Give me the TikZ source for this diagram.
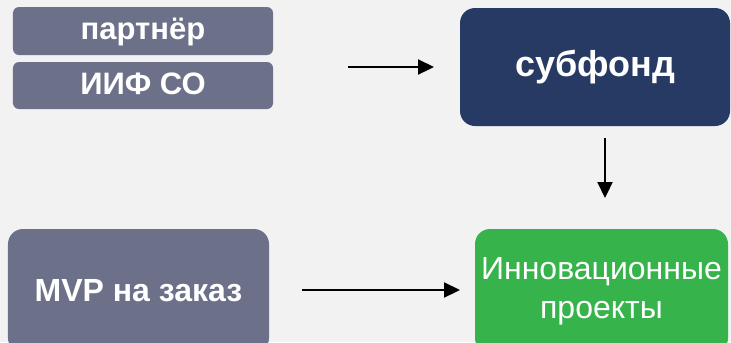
\documentclass[tikz,border=0pt]{standalone}
\usepackage{fontspec}
\setmainfont{Liberation Sans}
\usetikzlibrary{arrows.meta,positioning}
\definecolor{bgc}{HTML}{F2F2F2}
\definecolor{grayb}{HTML}{6C7189}
\definecolor{navyb}{HTML}{263A64}
\definecolor{greenb}{HTML}{36B34B}
\tikzset{
  smallbox/.style={fill=grayb, rounded corners=6bp, text=white, inner sep=0pt,
    text height=17bp, text depth=0bp,
    font=\fontsize{31bp}{34bp}\selectfont\bfseries},
  bigbox/.style={rounded corners=15bp, text=white, inner sep=0pt},
  conn/.style={line width=2.2bp, -{Triangle[length=16bp,width=15bp]}}
}
\begin{document}
\begin{tikzpicture}[x=1bp,y=-1bp]
\useasboundingbox (0,0) rectangle (731,342);
\fill[bgc] (0,0) rectangle (731,342);
\clip (0,0) rectangle (731,342);
\node[smallbox, minimum width=260bp, minimum height=48bp] (partner) at (143,31) {партнёр};
\node[smallbox, minimum width=260bp, minimum height=47bp] (iif) at (143,85.5) {ИИФ СО};
\node[bigbox, fill=navyb, minimum width=270bp, minimum height=118bp,
  font=\fontsize{36bp}{40bp}\selectfont\bfseries] (sub) at (595,67) {субфонд};
\node[bigbox, fill=grayb, minimum width=261bp, minimum height=124bp,
  font=\fontsize{32bp}{36bp}\selectfont\bfseries] (mvp) at (138.5,291) {MVP на заказ};
\node[bigbox, fill=greenb, minimum width=253bp, minimum height=124bp, align=center,
  font=\fontsize{32bp}{39bp}\selectfont] (innov) at (601.5,291) {Инновационные\\проекты};
\coordinate (a1s) at (348,67);
\coordinate (a3s) at (302,290);
\draw[conn] (a1s) -- (sub.west -| 434,0);
\draw[conn] (sub.south -| 605,0) ++(0,12) -- (605,198);
\draw[conn] (a3s) -- (460,290);
\end{tikzpicture}
\end{document}
